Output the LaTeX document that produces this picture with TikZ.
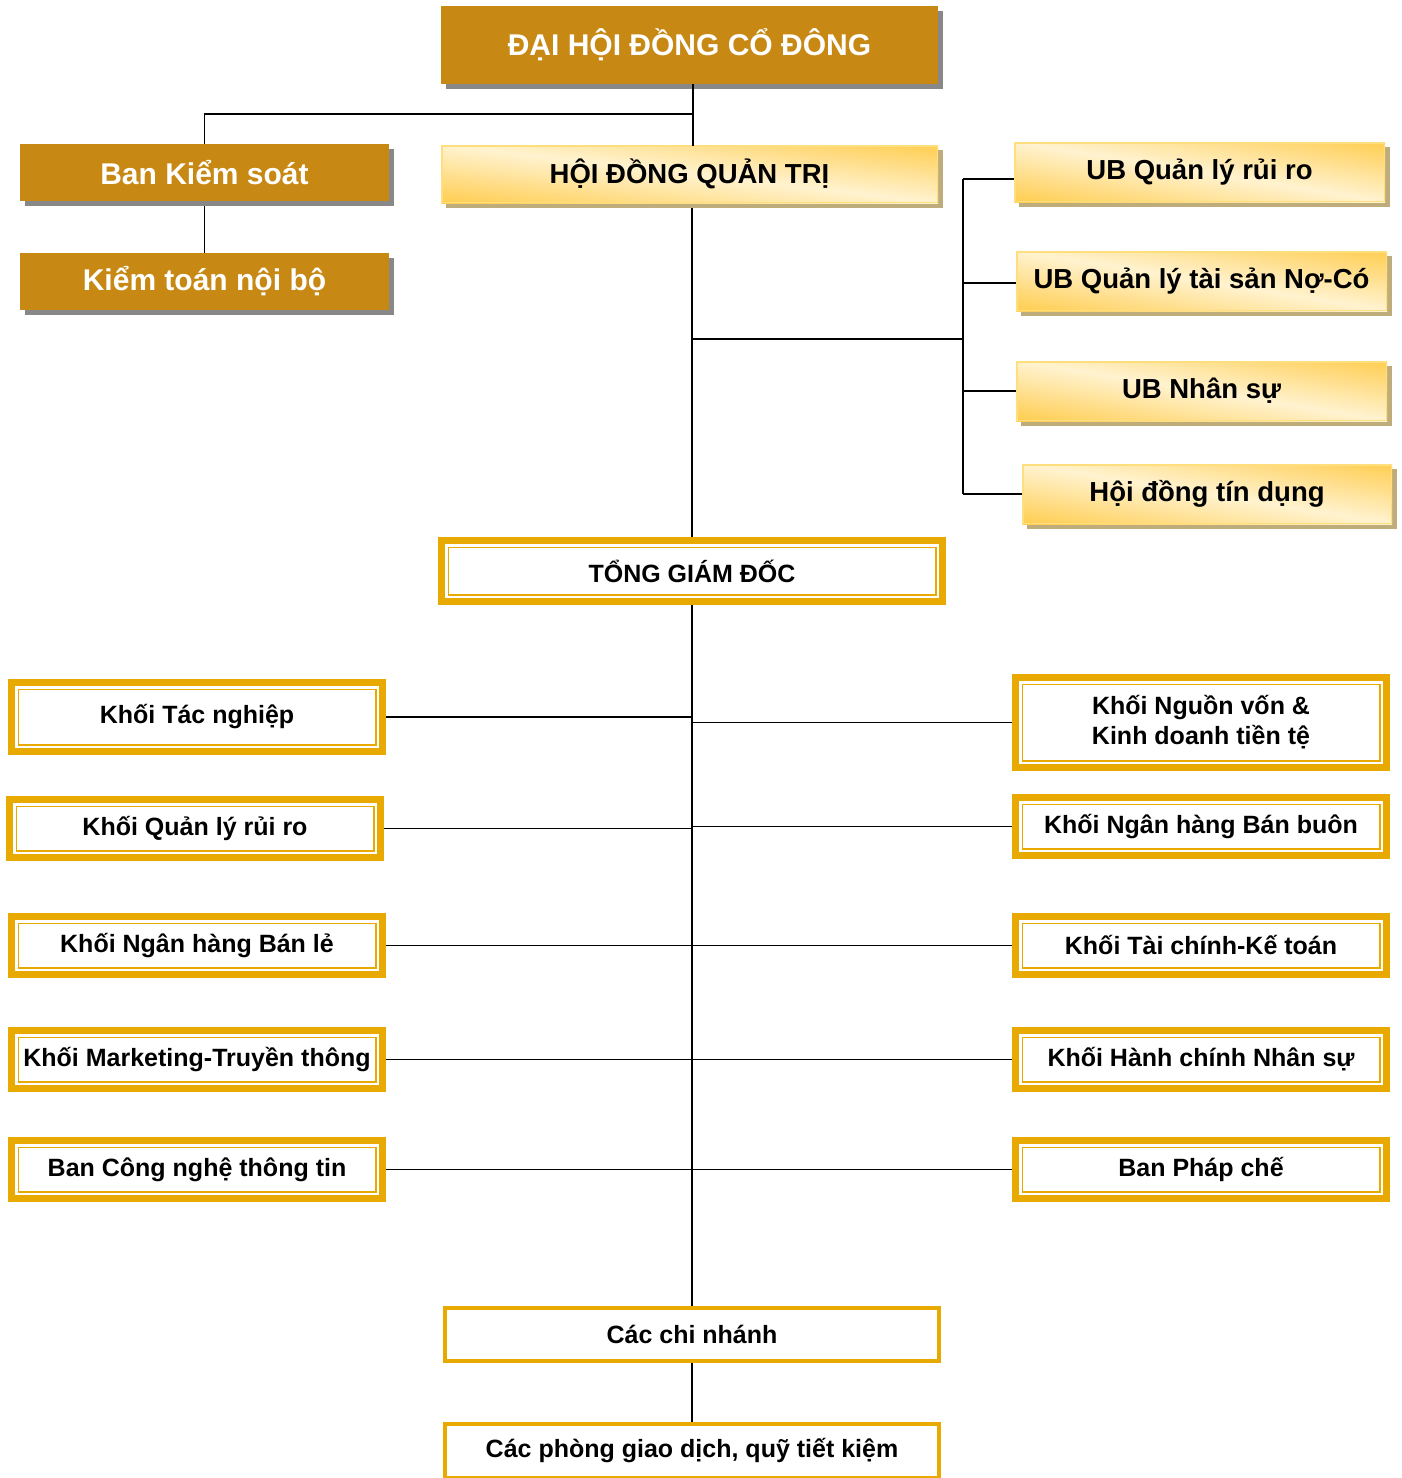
\documentclass[tikz,border=0pt]{standalone}
\usepackage{fontspec}
\setmainfont{Liberation Sans}
\usetikzlibrary{shadows}
\pgfdeclarelayer{background}
\pgfsetlayers{background,main}
\definecolor{dgold}{RGB}{199,137,20}
\definecolor{bgold}{RGB}{232,170,0}
\definecolor{shgray}{RGB}{136,136,136}
\definecolor{shtan}{RGB}{190,172,122}
\definecolor{lgold}{RGB}{255,205,80}
\definecolor{cream}{RGB}{255,243,208}
\definecolor{gborder}{RGB}{255,222,125}
% diagonal gold/cream background with shadow for a box given by its outer corners
\newcommand\gradbg[4]{%
  \fill[shtan] (#1+5,#2+5) rectangle (#3+5,#4+5);
  \begin{scope}
    \clip (#1,#2) rectangle (#3,#4);
    \pgfmathsetmacro{\gH}{#4-#2}
    \foreach \k in {0,...,39}{
      \pgfmathsetmacro{\ea}{-\gH+2*\gH*\k/40}
      \pgfmathsetmacro{\eb}{\ea+2*\gH/40+0.6}
      \pgfmathsetmacro{\gp}{100*abs(\k+0.5-20)/20}
      \fill[lgold!\gp!cream] (#1,{#2+(\ea)}) -- (#3,{#4+(\ea)}) -- (#3,{#4+(\eb)}) -- (#1,{#2+(\eb)}) -- cycle;
    }
  \end{scope}}
\begin{document}
\begin{tikzpicture}[x=1pt,y=-1pt,
  solidbox/.style={fill=dgold, text=white, inner sep=0pt, outer sep=0pt,
    font=\bfseries\fontsize{30}{34}\selectfont,
    drop shadow={shadow xshift=5pt, shadow yshift=-5pt, fill=shgray, opacity=1}},
  gradbox/.style={draw=gborder, line width=1.5pt,
    inner sep=0pt, outer sep=0pt, font=\bfseries\fontsize{27.5}{32}\selectfont},
  dblbox/.style={draw=bgold, line width=7pt, fill=white, inner sep=0pt, outer sep=0pt,
    align=center, font=\bfseries\fontsize{25}{30}\selectfont,
    path picture={\draw[bgold, line width=1.6pt]
      ([shift={(6.8pt,-6.8pt)}]path picture bounding box.north west) rectangle
      ([shift={(-6.8pt,6.8pt)}]path picture bounding box.south east);}},
  plainbox/.style={draw=bgold, line width=4pt, fill=white, inner sep=0pt, outer sep=0pt,
    font=\bfseries\fontsize{25}{30}\selectfont},
  link/.style={draw=black, line width=1.8pt}
]
\clip (0,0) rectangle (1401,1478);

% top level
\node[solidbox, minimum width=497pt, minimum height=78pt] (dhdcd) at (689.5,45) {ĐẠI HỘI ĐỒNG CỔ ĐÔNG};
\node[solidbox, minimum width=369pt, minimum height=57pt] (bks) at (204.5,172.5) {Ban Kiểm soát};
\node[solidbox, minimum width=369pt, minimum height=57pt] (ktnb) at (204.5,281.5) {Kiểm toán nội bộ};

\gradbg{441}{145}{938}{203}
\node[gradbox, minimum width=495.5pt, minimum height=56.5pt] (hdqt) at (689.5,174) {HỘI ĐỒNG QUẢN TRỊ};
\gradbg{1014}{142}{1385}{202}
\node[gradbox, minimum width=369.5pt, minimum height=58.5pt] (ub1) at (1199.5,172) {UB Quản lý rủi ro};
\gradbg{1016}{251}{1387}{311}
\node[gradbox, minimum width=369.5pt, minimum height=58.5pt] (ub2) at (1201.5,281) {UB Quản lý tài sản Nợ-Có};
\gradbg{1016}{361}{1387}{421}
\node[gradbox, minimum width=369.5pt, minimum height=58.5pt] (ub3) at (1201.5,391) {UB Nhân sự};
\gradbg{1022}{464}{1392}{524}
\node[gradbox, minimum width=368.5pt, minimum height=58.5pt] (hdtd) at (1207,494) {Hội đồng tín dụng};

\node[dblbox, minimum width=501pt, minimum height=61pt] (tgd) at (692,571) {TỔNG GIÁM ĐỐC};

\node[dblbox, minimum width=371pt, minimum height=69pt] (kl1) at (197,717) {Khối Tác nghiệp};
\node[dblbox, minimum width=371pt, minimum height=58pt] (kl2) at (195,828.5) {Khối Quản lý rủi ro};
\node[dblbox, minimum width=371pt, minimum height=58pt] (kl3) at (197,945.5) {Khối Ngân hàng Bán lẻ};
\node[dblbox, minimum width=371pt, minimum height=58pt] (kl4) at (197,1059.5) {Khối Marketing-Truyền thông};
\node[dblbox, minimum width=371pt, minimum height=58pt] (kl5) at (197,1169.5) {Ban Công nghệ thông tin};

\node[dblbox, minimum width=371pt, minimum height=90pt] (kr1) at (1201,722.5) {Khối Nguồn vốn \&\\Kinh doanh tiền tệ};
\node[dblbox, minimum width=371pt, minimum height=58pt] (kr2) at (1201,826.5) {Khối Ngân hàng Bán buôn};
\node[dblbox, minimum width=371pt, minimum height=58pt] (kr3) at (1201,945.5) {Khối Tài chính-Kế toán};
\node[dblbox, minimum width=371pt, minimum height=58pt] (kr4) at (1201,1059.5) {Khối Hành chính Nhân sự};
\node[dblbox, minimum width=371pt, minimum height=58pt] (kr5) at (1201,1169.5) {Ban Pháp chế};

\node[plainbox, minimum width=494pt, minimum height=53pt] (ccn) at (692,1334.5) {Các chi nhánh};
\node[plainbox, minimum width=494pt, minimum height=54pt] (cpgd) at (692,1451) {Các phòng giao dịch, quỹ tiết kiệm};

% connectors
\coordinate (j1) at (693,114);
\coordinate (j2) at (692,339);
\coordinate (j3) at (963,339);
\draw[link] (dhdcd.south -| j1) -- (hdqt.north -| j1);
\begin{pgfonlayer}{background}
\fill[white] (0,0) rectangle (1401,1478);
\draw[link] (j1) -| (bks.north);
\draw[link] (bks.south) -- (ktnb.north);
\draw[link] (hdqt.south -| tgd.north) -- (tgd.north);
\draw[link] (j2) -- (j3);
\draw[link] ([yshift=-7pt]ub1.west -| j3) -- (hdtd.west -| j3);
\draw[link] ([yshift=-7pt]ub1.west -| j3) -- ([yshift=-7pt]ub1.west);
\draw[link] ([yshift=-2pt]ub2.west -| j3) -- ([yshift=-2pt]ub2.west);
\draw[link] (ub3.west -| j3) -- (ub3.west);
\draw[link] (hdtd.west -| j3) -- (hdtd.west);
\draw[link] (tgd.south) -- (ccn.north);
\foreach \n in {kl1,kl2,kl3,kl4,kl5}{\draw[link] (\n.east) -- (\n.east -| tgd.south);}
\foreach \n in {kr1,kr2,kr3,kr4,kr5}{\draw[link] (\n.west) -- (\n.west -| tgd.south);}
\draw[link] (ccn.south) -- (cpgd.north);
\end{pgfonlayer}
\end{tikzpicture}
\end{document}
